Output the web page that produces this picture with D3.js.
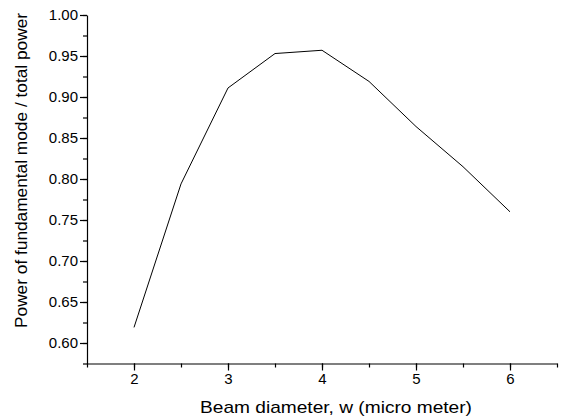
<!DOCTYPE html>
<html>
<head>
<meta charset="utf-8">
<script src="https://cdn.jsdelivr.net/npm/d3@7"></script>
<style>
  body { margin: 0; background: #fff; }
  text { font-family: "Liberation Sans", Arial, sans-serif; fill: #000; }
</style>
</head>
<body>
<script>
// beam diameter (micro meter) vs power ratio
const beamDiameter = [2, 2.5, 3, 3.5, 4, 4.5, 5, 5.5, 6];
const powerRatio = [0.619, 0.794, 0.911, 0.953, 0.957, 0.919, 0.864, 0.815, 0.760];
const xTicks = [2, 3, 4, 5, 6];
const yTicks = [0.60, 0.65, 0.70, 0.75, 0.80, 0.85, 0.90, 0.95, 1.00];

let width = 561, height = 418;
let svg = d3.select("body").append("svg")
            .attr("width", width)
            .attr("height", height);

let x = d3.scaleLinear().domain([1.5, 6.5]).range([87, 557]);
let y = d3.scaleLinear().domain([0.575, 1.0]).range([363.5, 15]);

// minor ticks first
let xMinor = d3.range(1.5, 6.51, 0.5);
let yMinor = d3.range(0.575, 1.0001, 0.025);

svg.append("g").attr("transform", "translate(0,363.5)")
   .call(d3.axisBottom(x).tickValues(xMinor).tickSize(4).tickFormat(""))
   .call(g => g.select(".domain").remove());
svg.append("g").attr("transform", "translate(87,0)")
   .call(d3.axisLeft(y).tickValues(yMinor).tickSize(4).tickFormat(""))
   .call(g => g.select(".domain").remove());

let xAxis = svg.append("g").attr("transform", "translate(0,363.5)")
   .call(d3.axisBottom(x).tickValues(xTicks).tickSize(7).tickSizeOuter(0).tickPadding(3).tickFormat(d3.format("d")));
let yAxis = svg.append("g").attr("transform", "translate(87,0)")
   .call(d3.axisLeft(y).tickValues(yTicks).tickSize(7).tickSizeOuter(0).tickPadding(2).tickFormat(d3.format(".2f")));

svg.selectAll(".tick line, .domain").attr("stroke", "#000").attr("stroke-width", 1.2);
svg.selectAll(".tick text").attr("font-size", 15).attr("font-family", "Liberation Sans, Arial, sans-serif").attr("fill", "#000");

let line = d3.line()
  .x((d, i) => x(beamDiameter[i]))
  .y(d => y(d));

svg.append("path")
   .datum(powerRatio)
   .attr("d", line)
   .attr("fill", "none")
   .attr("stroke", "#000")
   .attr("stroke-width", 1);

svg.append("text")
   .attr("x", 200)
   .attr("y", 413)
   .attr("font-size", 17)
   .attr("textLength", 272)
   .attr("lengthAdjust", "spacingAndGlyphs")
   .text("Beam diameter, w (micro meter)");

svg.append("text")
   .attr("transform", "translate(27,328) rotate(-90)")
   .attr("font-size", 17)
   .attr("textLength", 315)
   .attr("lengthAdjust", "spacingAndGlyphs")
   .text("Power of fundamental mode / total power");
</script>
</body>
</html>
